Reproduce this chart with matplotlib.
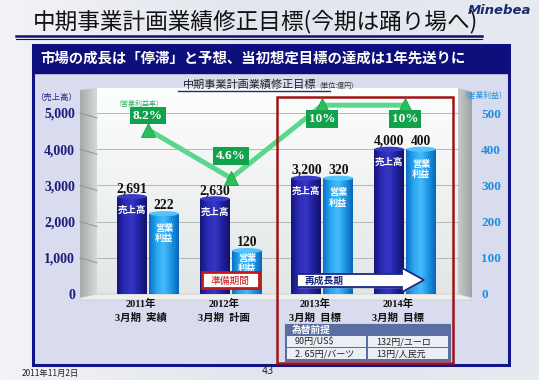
import numpy as np
import matplotlib
matplotlib.use('Agg')
import matplotlib.pyplot as plt
from matplotlib.patches import Rectangle, Polygon, Ellipse
from matplotlib.colors import LinearSegmentedColormap

JP = ['Noto Sans CJK JP', 'DejaVu Sans']
SER = ['Liberation Serif', 'Noto Sans CJK JP', 'DejaVu Sans']

# ---------------- data ----------------
years = ['2011年', '2012年', '2013年', '2014年']
periods = ['3月期  実績', '3月期  計画', '3月期  目標', '3月期  目標']
sales = [2691, 2630, 3200, 4000]
profit = [222, 120, 320, 400]
rate = [8.2, 4.6, 10, 10]
rate_labels = ['8.2%', '4.6%', '10%', '10%']
sales_ticks = [0, 1000, 2000, 3000, 4000, 5000]
profit_ticks = [0, 100, 200, 300, 400, 500]
fx_header = '為替前提'
fx_rows = [['90円/US$', '132円/ユーロ'], ['2. 65円/バーツ', '13円/人民元']]

W, H = 539, 380
fig = plt.figure(figsize=(W / 100, H / 100), dpi=100)
fig.patch.set_facecolor('#e9ebf2')

# background axes in pixel coordinates
bg = fig.add_axes([0, 0, 1, 1], zorder=-10)
bg.set_xlim(0, W); bg.set_ylim(H, 0); bg.axis('off')

def grad(axh, x0, x1, y0, y1, colors, vertical=True, clip=None, z=0):
    cmap = LinearSegmentedColormap.from_list('g', colors)
    g = np.linspace(0, 1, 128)
    arr = g.reshape(-1, 1) if vertical else g.reshape(1, -1)
    im = axh.imshow(arr, extent=(x0, x1, y1, y0), aspect='auto', cmap=cmap,
                    interpolation='bicubic', zorder=z)
    if clip is not None:
        im.set_clip_path(clip)
    return im

# slide background sweep
grad(bg, 0, W, 0, H, ['#f2f3f7', '#e2e5ee', '#e8eaf2'], vertical=False, z=0)
# navy frame and lavender inside
bg.add_patch(Rectangle((33, 45), 476, 320, fc='#d9dcee', ec='#14148a', lw=2.2, zorder=1))
bg.add_patch(Rectangle((33, 45), 476, 28, fc='#0e0e7c', ec='#0e0e7c', lw=1, zorder=2))

# 3-D chart box
back = Rectangle((97, 88), 361, 206, fc='none', ec='none')
bg.add_patch(back)
grad(bg, 97, 458, 88, 294, ['#fdfefe', '#f0f2f2', '#e2e6e6'], clip=back, z=2)
lw_poly = Polygon([(80, 90), (97, 88), (97, 294), (80, 298)], closed=True, fc='none', ec='none')
bg.add_patch(lw_poly)
grad(bg, 80, 97, 88, 298, ['#a6aaaa', '#d6d9d9'], vertical=False, clip=lw_poly, z=2)
rw_poly = Polygon([(458, 88), (472, 92), (472, 298), (458, 294)], closed=True, fc='none', ec='none')
bg.add_patch(rw_poly)
grad(bg, 458, 472, 88, 298, ['#c8cbcb', '#9ea2a2'], vertical=False, clip=rw_poly, z=2)
bg.add_patch(Polygon([(80, 298), (97, 294), (458, 294), (472, 298), (472, 300), (80, 300)],
                     closed=True, fc='#eef0f0', ec='#c8cccc', lw=0.6, zorder=3))

# ---------------- main axes ----------------
ax = fig.add_axes([80 / W, 1 - 294 / H, 392 / W, 206 / H])
ax.set_facecolor('none')
pos = np.array([0, 1, 2.1, 3.1])
off, bw = 0.193, 0.36
ymax = 5691
XL = (-0.819, 3.904)
ax.set_xlim(*XL)
ax.set_ylim(0, ymax)
for s in ax.spines.values():
    s.set_visible(False)
ax.set_xticks([])
ax.set_yticks(sales_ticks)
ax.set_yticklabels([f'{v:,}' for v in sales_ticks], fontfamily=SER, fontweight='bold',
                   fontsize=10, color='#1c1c7c')
ax.tick_params(axis='y', length=0, pad=3.6)

# gridlines (back wall + side wall)
for v in sales_ticks[1:]:
    ax.axhline(v, xmin=17 / 392, xmax=378 / 392, color='#b4b8b8', lw=0.7, zorder=1)
    ax.plot([XL[0], -0.614], [v, v - 5 / 206 * ymax], color='#8f9393', lw=0.7, zorder=1,
            clip_on=False)

ax2 = ax.twinx()
ax2.set_ylim(0, ymax / 10)
for s in ax2.spines.values():
    s.set_visible(False)
ax2.set_yticks(profit_ticks)
ax2.set_yticklabels([str(v) for v in profit_ticks], fontfamily=SER, fontweight='bold',
                    fontsize=9.5, color='#1d8fdc')
ax2.tick_params(axis='y', length=0, pad=6.5)

sales_cmap = LinearSegmentedColormap.from_list('s', ['#15157a', '#2b2bb6', '#3636c4', '#2020a0', '#121268'])
profit_cmap = LinearSegmentedColormap.from_list('p', ['#0c70c4', '#2aa6f0', '#46bdfa', '#1c94e4', '#0a66b6'])

def cyl(axh, bars, cmap, cap_h, cap_color):
    g = np.linspace(0, 1, 64).reshape(1, -1)
    for b in bars:
        x, y, w, h = b.get_x(), b.get_y(), b.get_width(), b.get_height()
        im = axh.imshow(g, extent=(x, x + w, y, y + h), aspect='auto', cmap=cmap,
                        interpolation='bicubic', zorder=2)
        im.set_clip_path(b)
        b.set_facecolor('none')
        axh.add_patch(Ellipse((x + w / 2, y + h), w, cap_h, fc=cap_color, ec='none', zorder=2.1))

bs = ax.bar(pos - off, sales, width=bw, color='#2222a0', zorder=2, lw=0)
cyl(ax, bs, sales_cmap, 5 / 206 * ymax, '#3a3ac8')
bp = ax2.bar(pos + off, profit, width=bw, color='#1f9ae8', zorder=2, lw=0)
cyl(ax2, bp, profit_cmap, 5 / 206 * ymax / 10, '#52c4fb')
ax.set_xlim(*XL); ax.set_ylim(0, ymax)
ax2.set_xlim(*XL); ax2.set_ylim(0, ymax / 10)

PX = 0.72  # points per pixel
for p, v in zip(pos, sales):
    ax.annotate(f'{v:,}', (p - off, v), xytext=(0, 8 * PX), textcoords='offset points',
                ha='center', va='center', fontfamily=SER, fontweight='bold', fontsize=9.8,
                color='#111111', zorder=5)
    ax.annotate('売上高', (p - off, v), xytext=(0, -13 * PX), textcoords='offset points',
                ha='center', va='center', fontfamily=JP, fontweight='bold', fontsize=6.8,
                color='white', zorder=5)
inner_dy = [-20, -13, -20, -20]
for p, v, dy in zip(pos, profit, inner_dy):
    ax2.annotate(f'{v:,}', (p + off, v), xytext=(0, 8 * PX), textcoords='offset points',
                 ha='center', va='center', fontfamily=SER, fontweight='bold', fontsize=9.8,
                 color='#111111', zorder=5)
    ax2.annotate('営業\n利益', (p + off, v), xytext=(0, dy * PX), textcoords='offset points',
                 ha='center', va='center', fontfamily=JP, fontweight='bold', fontsize=6.6,
                 color='white', linespacing=1.2, zorder=5)

for p, y, q in zip(pos, years, periods):
    ax.annotate(y, (p, 0), xytext=(-7 * PX, -10 * PX), textcoords='offset points',
                ha='center', va='center', fontfamily=SER, fontweight='bold', fontsize=7.5,
                color='#111111', annotation_clip=False)
    ax.annotate(q, (p, 0), xytext=(-7 * PX, -24 * PX), textcoords='offset points',
                ha='center', va='center', fontfamily=SER, fontweight='bold', fontsize=7.5,
                color='#111111', annotation_clip=False)

# rate line on its own scale
ax3 = ax.twinx()
ax3.set_ylim(-3.96, 11.27)
ax3.set_xlim(*XL)
ax3.axis('off')
ax3.plot(pos, rate, color='#5ad68e', lw=3.6, solid_capstyle='round', zorder=3)
ax3.plot(pos, rate, '^', ms=10, color='#2bbf5c', mec='#1e9e4a', mew=0.6, zorder=4)
label_dy = [14, 22, -14, -14]
for p, r, t, dy in zip(pos, rate, rate_labels, label_dy):
    ax3.annotate(t, (p, r), xytext=(0, dy * PX), textcoords='offset points', ha='center',
                 va='center', fontfamily=SER, fontweight='bold', fontsize=9.5, color='white',
                 bbox=dict(boxstyle='square,pad=0.22', fc='#13a24c', ec='none'), zorder=6)

# ---------------- overlay decorations ----------------
fg = fig.add_axes([0, 0, 1, 1], zorder=20)
fg.set_xlim(0, W); fg.set_ylim(H, 0); fg.axis('off'); fg.patch.set_alpha(0)

fg.add_patch(Rectangle((277, 97), 176, 266, fc='none', ec='#a01414', lw=1.8))
fg.add_patch(Rectangle((202, 272), 57, 16, fc='white', ec='#c41818', lw=2))
fg.text(230.5, 280.5, '準備期間', ha='center', va='center', fontfamily=JP, fontsize=7,
        color='#c41818')
arrow = [(297, 274), (402, 274), (402, 268), (424, 280), (402, 292), (402, 287), (297, 287)]
fg.add_patch(Polygon([(x + 1.5, y + 1.5) for x, y in arrow], closed=True, fc='#8a90b0',
                     ec='none', alpha=0.6))
fg.add_patch(Polygon(arrow, closed=True, fc='white', ec='#1a2a80', lw=1.3))
fg.text(305, 280.5, '再成長期', ha='left', va='center', fontfamily=JP, fontweight='bold',
        fontsize=7, color='#1a2a80')

# fx table
fg.add_patch(Rectangle((285, 324), 165, 37, fc='#5a6ea2', ec='#5a6ea2', lw=0.8))
fg.text(292, 329.5, fx_header, ha='left', va='center', fontfamily=JP, fontweight='bold',
        fontsize=7, color='white')
cells_x = [(287, 366), (368, 448)]
cells_y = [(336, 347), (348, 359)]
for row, (y0, y1) in zip(fx_rows, cells_y):
    for txt, (x0, x1) in zip(row, cells_x):
        fg.add_patch(Rectangle((x0, y0), x1 - x0, y1 - y0, fc='#eceef5', ec='none'))
        fg.text(x0 + 8, (y0 + y1) / 2 + 0.5, txt, ha='left', va='center', fontfamily=JP,
                fontsize=6.5, color='#222222')

# ---------------- texts ----------------
fig.text(33 / W, 1 - 22 / H, '中期事業計画業績修正目標(今期は踊り場へ)', ha='left', va='center',
         fontfamily=JP, fontsize=16.3, color='#111111')
fg.plot([16, 482], [35.5, 35.5], color='#101070', lw=1.8)
fg.plot([16, 482], [38.8, 38.8], color='#101070', lw=0.8)
fig.text(531 / W, 1 - 10 / H, 'Minebea', ha='right', va='center', fontfamily='DejaVu Sans',
         fontweight='bold', fontstyle='italic', fontsize=9.5, color='#1a2b6e')
fig.text(40 / W, 1 - 59 / H, '市場の成長は「停滞」と予想、当初想定目標の達成は1年先送りに',
         ha='left', va='center', fontfamily=JP, fontweight='bold', fontsize=10.4, color='white')
fig.text(183 / W, 1 - 85 / H, '中期事業計画業績修正目標', ha='left', va='center', fontfamily=JP,
         fontsize=8, color='#222222')
fig.text(319 / W, 1 - 86 / H, '(単位:億円)', ha='left', va='center', fontfamily=JP,
         fontsize=5, color='#333333')
fg.plot([178, 330], [91, 91], color='#1a2a80', lw=1)
fig.text(56 / W, 1 - 97 / H, '（売上高）', ha='center', va='center', fontfamily=JP,
         fontsize=6, color='#1c1c7c')
fig.text(484 / W, 1 - 96 / H, '（営業利益）', ha='center', va='center', fontfamily=JP,
         fontsize=5.6, color='#1d8fdc')
fig.text(139 / W, 1 - 104 / H, '（営業利益率）', ha='center', va='center', fontfamily=JP,
         fontsize=5, color='#2fb060')
fig.text(22 / W, 1 - 373 / H, '2011年11月2日', ha='left', va='center', fontfamily=JP,
         fontstyle='italic', fontsize=6, color='#222222')
fig.text(268 / W, 1 - 371 / H, '43', ha='center', va='center', fontfamily='DejaVu Sans',
         fontsize=7, color='#222222')

fig.savefig('out.png', dpi=100, facecolor=fig.get_facecolor())
